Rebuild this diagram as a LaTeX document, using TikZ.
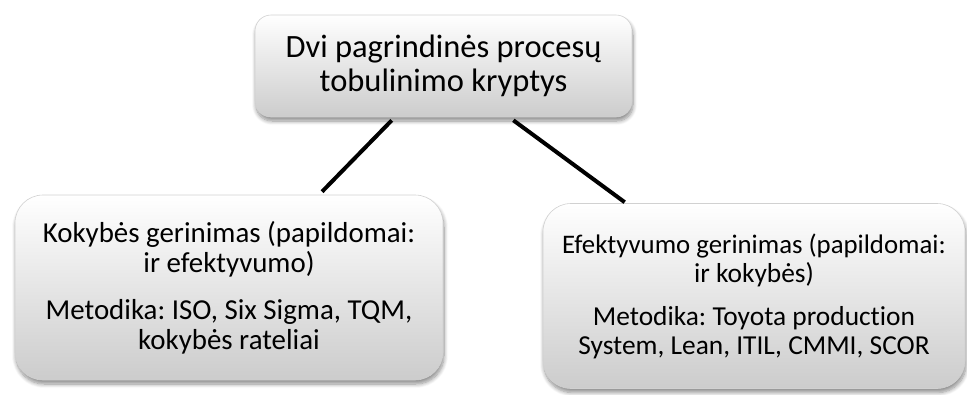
\documentclass[tikz,border=0pt]{standalone}
\usepackage{fontspec}
\setmainfont{Carlito}[Ligatures={NoCommon}]
\frenchspacing
\usetikzlibrary{calc,shadows.blur}

\tikzset{
  softbox/.style={
    rounded corners=#1,
    draw=black!18, line width=0.6pt,
    top color=white, bottom color=black!20,
    blur shadow={shadow xshift=1pt, shadow yshift=-4pt,
                 shadow blur radius=4pt, shadow blur steps=8, shadow opacity=45},
    align=center, inner sep=0pt, text=black
  },
  link/.style={line width=4pt, black}
}

\begin{document}
\begin{tikzpicture}[x=1pt, y=-1pt]
  \useasboundingbox (0,0) rectangle (967,394);

  % main topic
  \node[softbox=16pt, minimum width=377pt, minimum height=102pt,
        font=\fontsize{32.5}{34}\selectfont] (top) at (443.5,66)
    {Dvi pagrindinės procesų\\tobulinimo kryptys};

  % quality branch
  \node[softbox=28pt, minimum width=428pt, minimum height=185pt,
        font=\fontsize{28.9}{30}\selectfont] (qual) at (229,287.5)
    {Kokybės gerinimas (papildomai:\\ir efektyvumo)\\[17pt]
     Metodika: ISO, Six Sigma, TQM,\\kokybės rateliai};

  % efficiency branch
  \node[softbox=28pt, minimum width=422pt, minimum height=185pt,
        font=\fontsize{27.4}{29}\selectfont] (eff) at (754,296)
    {\fontsize{26.8}{28.5}\selectfont Efektyvumo gerinimas (papildomai:\\ir kokybės)\\[14pt]
     Metodika: Toyota production\\System, Lean, ITIL, CMMI, SCOR};

  % connectors
  \coordinate (t1) at ($(top.south west)!0.363!(top.south east)$);
  \coordinate (t2) at ($(top.south west)!0.685!(top.south east)$);
  \coordinate (q1) at ($(qual.north west)!0.717!(qual.north east)$);
  \coordinate (e1) at ($(eff.north west)!0.194!(eff.north east)$);
  \draw[link] ([yshift=-3pt]t1) -- ([yshift=3pt]q1);
  \draw[link] ([yshift=-3pt]t2) -- ([yshift=1pt]e1);
\end{tikzpicture}
\end{document}
